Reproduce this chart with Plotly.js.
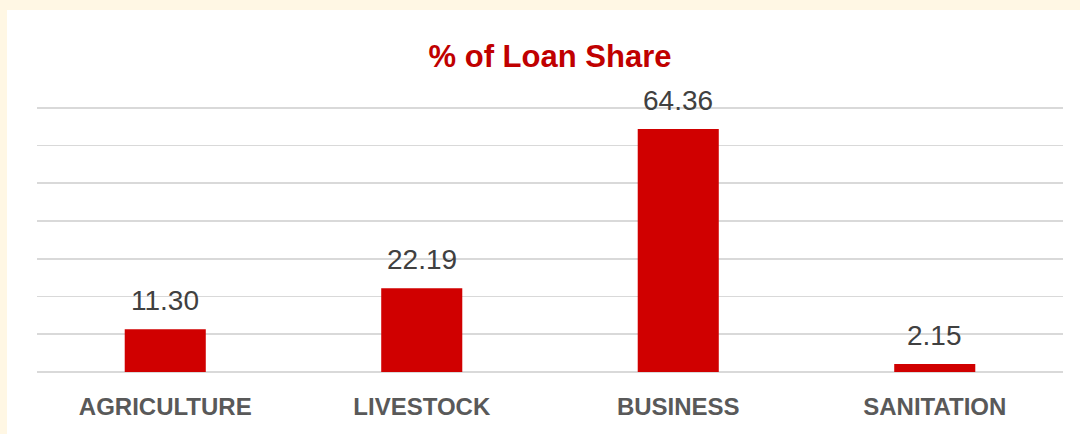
<!DOCTYPE html>
<html>
<head>
<meta charset="utf-8">
<script src="https://cdn.plot.ly/plotly-3.0.1.min.js"></script>
<style>
  html, body { margin: 0; padding: 0; background: #FFF7E4; width: 1080px; height: 434px; overflow: hidden; }
  #chart { position: absolute; left: 7px; top: 10px; width: 1073px; height: 424px; background: #ffffff; }
</style>
</head>
<body>
<div id="chart"></div>
<script>
const categories = ["AGRICULTURE", "LIVESTOCK", "BUSINESS", "SANITATION"];
const loanShare = [11.30, 22.19, 64.36, 2.15];
const valueLabels = ["11.30", "22.19", "64.36", "2.15"];
const chartTitle = "% of Loan Share";

const FONT = "Liberation Sans, Arial, sans-serif";

const trace = {
  type: "bar",
  x: categories,
  y: loanShare,
  marker: { color: "#D00000" },
  hoverinfo: "none"
};

const annotations = categories.map((c, i) => ({
  x: c,
  y: loanShare[i],
  xref: "x",
  yref: "y",
  text: valueLabels[i],
  showarrow: false,
  yanchor: "bottom",
  yshift: 11,
  font: { family: FONT, size: 28, color: "#404040" }
}));

const layout = {
  width: 1073,
  height: 424,
  paper_bgcolor: "#ffffff",
  plot_bgcolor: "#ffffff",
  margin: { l: 30, r: 17, t: 94, b: 62 },
  showlegend: false,
  bargap: 0.684,
  title: {
    text: chartTitle,
    x: 0.5,
    xref: "paper",
    y: 0.892,
    yref: "container",
    yanchor: "middle",
    font: { family: FONT, size: 31, color: "#C00000", weight: "bold" }
  },
  xaxis: {
    type: "category",
    showgrid: false,
    showline: false,
    ticks: "",
    ticklabelstandoff: 18,
    tickfont: { family: FONT, size: 24, color: "#595959", weight: "bold" }
  },
  yaxis: {
    range: [0, 71],
    dtick: 10,
    tick0: 0,
    showticklabels: false,
    showgrid: true,
    gridcolor: "#D9D9D9",
    gridwidth: 1.6,
    zeroline: true,
    zerolinecolor: "#D9D9D9",
    zerolinewidth: 1.6,
    showline: false,
    ticks: ""
  },
  annotations: annotations
};

Plotly.newPlot("chart", [trace], layout, { staticPlot: true, displayModeBar: false });
</script>
</body>
</html>
